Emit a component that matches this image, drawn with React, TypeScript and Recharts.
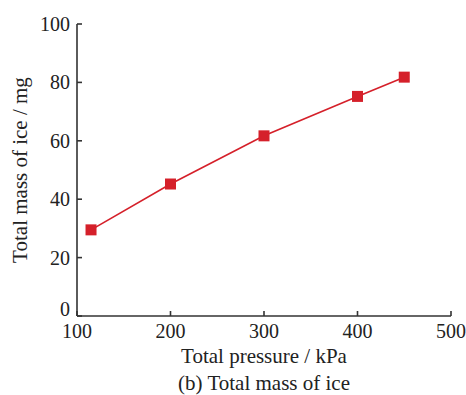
import React from "react";
import { LineChart, Line, XAxis, YAxis, Label } from "recharts";

const pressure = [115, 200, 300, 400, 450];
const iceMass = [29.5, 45.2, 61.7, 75.2, 81.8];
const xTicks = [100, 200, 300, 400, 500];
const yTicks = [0, 20, 40, 60, 80, 100];

const data = pressure.map((p, i) => ({ pressure: p, mass: iceMass[i] }));

const RED = "#d5202a";
const AXIS = "#333";
const INK = "#222";
const SERIF = { fontFamily: "'Liberation Serif'" };

function SquareDot(props: any) {
  const { cx, cy, index } = props;
  if (cx == null || cy == null) return null;
  return <rect key={index} x={cx - 5.5} y={cy - 5.5} width={11} height={11} fill={RED} />;
}

function XTick(props: any) {
  const { x, y, payload } = props;
  return (
    <text x={x} y={y + 14} style={SERIF} fontSize={20} fill={INK} textAnchor="middle">
      {payload.value}
    </text>
  );
}

// zero label nudged up so it clears the x axis "100"
function YTick(props: any) {
  const { x, y, payload } = props;
  const shift = payload.value === 0 ? -7 : 0;
  return (
    <text x={x} y={y + 7 + shift} style={SERIF} fontSize={20} fill={INK} textAnchor="end">
      {payload.value}
    </text>
  );
}

function XTitle(props: any) {
  const { x, y, width } = props.viewBox;
  const cx = x + width / 2;
  return (
    <g fontSize={21} fill={INK} textAnchor="middle">
      <text x={cx} y={y + 47} style={SERIF}>Total pressure / kPa</text>
      <text x={cx} y={y + 74} style={SERIF}>(b) Total mass of ice</text>
    </g>
  );
}

function YTitle(props: any) {
  const { y, height } = props.viewBox;
  const cy = y + height / 2;
  return (
    <text
      x={27}
      y={cy}
      transform={`rotate(-90, 27, ${cy})`}
      style={SERIF}
      fontSize={21}
      fill={INK}
      textAnchor="middle"
    >
      Total mass of ice / mg
    </text>
  );
}

export default function App() {
  return (
    <div style={{ position: "absolute", left: 0, top: 0, background: "#fff" }}>
      <LineChart
        width={466}
        height={395}
        data={data}
        margin={{ top: 24, right: 15, bottom: 0, left: 0 }}
      >
        <XAxis
          type="number"
          dataKey="pressure"
          domain={[100, 500]}
          ticks={xTicks}
          height={79}
          stroke={AXIS}
          strokeWidth={1.6}
          tickSize={-5}
          tickMargin={13}
          tick={<XTick />}
        >
          <Label content={<XTitle />} />
        </XAxis>
        <YAxis
          type="number"
          domain={[0, 100]}
          ticks={yTicks}
          width={77}
          stroke={AXIS}
          strokeWidth={1.6}
          tickSize={-5}
          tickMargin={12}
          tick={<YTick />}
        >
          <Label content={<YTitle />} />
        </YAxis>
        <Line
          type="linear"
          dataKey="mass"
          stroke={RED}
          strokeWidth={1.6}
          dot={<SquareDot />}
          isAnimationActive={false}
        />
      </LineChart>
    </div>
  );
}
